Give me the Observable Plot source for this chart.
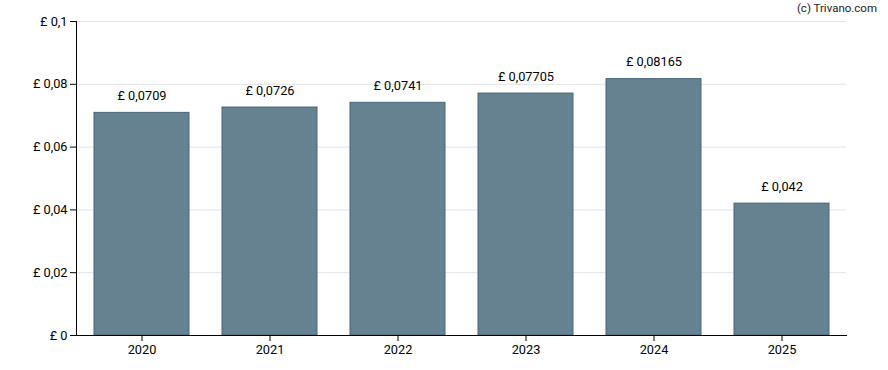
<!DOCTYPE html>
<html><head><meta charset="utf-8">
<script src="https://cdn.jsdelivr.net/npm/d3@7"></script>
<script src="https://cdn.jsdelivr.net/npm/@observablehq/plot@0.6"></script>
<style>
body{margin:0;background:#fff;}
#wrap{position:relative;width:888px;height:370px;font-family:Roboto,sans-serif;}
#credit{position:absolute;right:11px;top:1px;font-size:11.5px;color:#222;}
</style>
</head><body><div id="wrap"><div id="credit">(c) Trivano.com</div></div>
<script>
const years = ["2020", "2021", "2022", "2023", "2024", "2025"];
const values = [0.0709, 0.0726, 0.0741, 0.07705, 0.08165, 0.042];
const yTicks = [0, 0.02, 0.04, 0.06, 0.08, 0.1];
const fmt = v => "£ " + String(v).replace(".", ",");
const data = years.map((y, i) => ({year: y, value: values[i]}));
const fs = 12.75;

const chart = Plot.plot({
  width: 888, height: 370,
  marginLeft: 76, marginRight: 42, marginTop: 21, marginBottom: 35,
  style: {fontFamily: "Roboto, sans-serif", fontSize: fs + "px", color: "#000", background: "#fff"},
  x: {domain: years, paddingInner: 0.26, paddingOuter: 0.13, label: null},
  y: {domain: [0, 0.1], label: null},
  marks: [
    Plot.gridY(yTicks, {stroke: "#e4e4e4", strokeOpacity: 1}),
    Plot.barY(data, {x: "year", y: "value", fill: "#66818f", stroke: "#46667c", strokeWidth: 1}),
    Plot.text(data, {x: "year", y: "value", text: d => fmt(d.value), dy: -17, fill: "#000", fontSize: fs}),
    Plot.axisY(yTicks, {tickFormat: fmt, tickSize: 6, tickPadding: 3, stroke: "#000", fill: "#000", fontSize: fs}),
    Plot.axisX({tickSize: 6, tickPadding: 3, stroke: "#000", fill: "#000", fontSize: fs}),
    Plot.frame({anchor: "left", stroke: "#000"}),
    Plot.frame({anchor: "bottom", stroke: "#000"})
  ]
});
document.getElementById("wrap").appendChild(chart);
</script>
</body></html>
